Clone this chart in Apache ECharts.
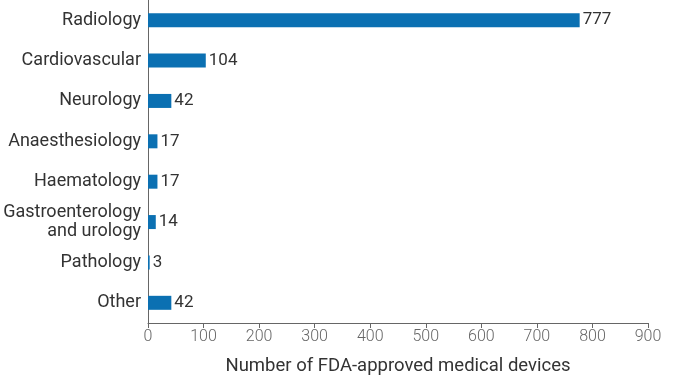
<!DOCTYPE html>
<html>
<head>
<meta charset="utf-8">
<script src="https://cdn.jsdelivr.net/npm/echarts@6/dist/echarts.min.js"></script>
<style>html,body{margin:0;padding:0;background:#fff}#c{width:685px;height:381px}</style>
</head>
<body>
<div id="c"></div>
<script>
const categories = ['Radiology','Cardiovascular','Neurology','Anaesthesiology','Haematology','Gastroenterology\nand urology','Pathology','Other'];
const values = [777,104,42,17,17,14,3,42];
const xTicks = [0,100,200,300,400,500,600,700,800,900];

const chart = echarts.init(document.getElementById('c'));
chart.setOption({
  animation:false,
  grid:{left:148,right:37,top:0,bottom:49,containLabel:false},
  xAxis:{
    type:'value',min:0,max:900,interval:100,
    name:'Number of FDA-approved medical devices',nameLocation:'middle',nameGap:34,
    nameTextStyle:{fontFamily:'Roboto',fontSize:18.5,color:'#333'},
    axisLine:{show:true,lineStyle:{color:'#666',width:1}},
    axisTick:{show:true,length:5,lineStyle:{color:'#666'}},
    axisLabel:{fontFamily:'Roboto',fontWeight:300,fontSize:16,color:'#666',margin:6,
      formatter:v=>xTicks.includes(v)?String(v):''},
    splitLine:{show:false}
  },
  yAxis:{
    type:'category',data:categories,inverse:true,
    axisLine:{show:true,lineStyle:{color:'#666',width:1}},
    axisTick:{show:false},
    axisLabel:{fontFamily:'Roboto',fontSize:18,color:'#333',margin:7,align:'right',lineHeight:19}
  },
  series:[{
    type:'bar',data:values,barWidth:14,
    itemStyle:{color:'#0B70B2'},
    label:{show:true,position:'right',distance:3,fontFamily:'Roboto',fontSize:17,color:'#333'}
  }]
});
</script>
</body>
</html>
